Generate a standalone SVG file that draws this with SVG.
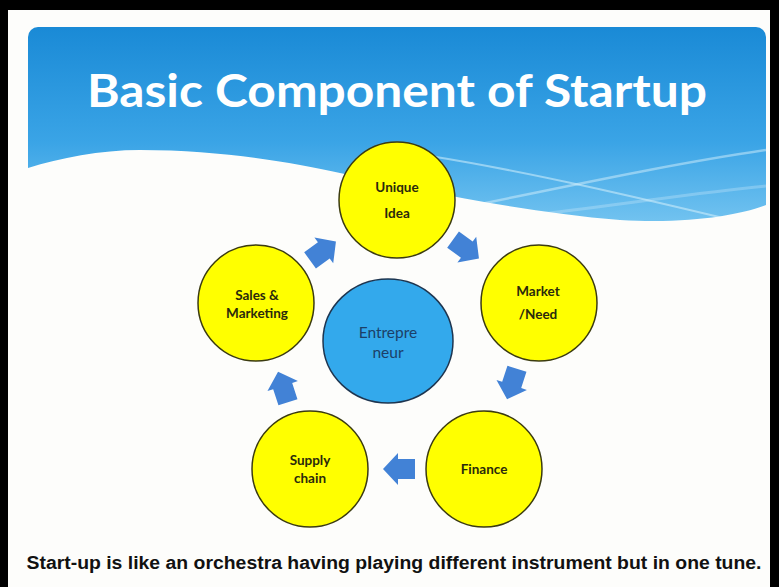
<svg xmlns="http://www.w3.org/2000/svg" width="779" height="587" viewBox="0 0 779 587">
<defs>
<linearGradient id="sky" x1="0" y1="0" x2="0" y2="1">
<stop offset="0" stop-color="#1a8ad6"/>
<stop offset="0.5" stop-color="#3aa4e6"/>
<stop offset="1" stop-color="#8ad0f4"/>
</linearGradient>
<clipPath id="bannerClip"><rect x="28" y="27" width="738" height="320" rx="10"/></clipPath>
<path id="arr" d="M-16,-10 L1,-10 L1,-16 L16,0 L1,16 L1,10 L-16,10 Z"/>
</defs>
<style>
.node{fill:#ffff00;stroke:#3b3b10;stroke-width:1.5}
.lbl{font-family:Lato,"Open Sans","Liberation Sans",sans-serif;font-weight:bold;font-size:13.5px;fill:#2a2a0c;text-anchor:middle}
.arrow{fill:#4282d6}
.streak{fill:none;stroke:#d6f0fc}
</style>
<rect width="779" height="587" fill="#000"/>
<rect x="8" y="10" width="762" height="577" fill="#fdfdfb"/>
<g id="banner" clip-path="url(#bannerClip)">
<rect x="28" y="27" width="738" height="230" fill="url(#sky)"/>
<path class="streak" d="M430,156 C530,172 640,198 740,222" stroke-width="2" opacity="0.55"/>
<path class="streak" d="M470,206 C570,186 670,164 766,150" stroke-width="2.5" opacity="0.5"/>
<path class="streak" d="M540,214 C620,205 700,192 766,186" stroke-width="3" opacity="0.3"/>
<path d="M28,168 C60,158 100,150 140,150 C220,150 290,162 340,173 C420,190 520,212 620,220 C690,224 740,215 766,205 L766,340 L28,340 Z" fill="#fdfdfb"/>
</g>
<text x="397" y="107" font-family="Lato,'Open Sans','Liberation Sans',sans-serif" font-weight="bold" font-size="46" fill="#ffffff" text-anchor="middle" textLength="620" lengthAdjust="spacingAndGlyphs">Basic Component of Startup</text>
<g id="connectors">
<use href="#arr" class="arrow" transform="translate(466,249) rotate(36)"/>
<use href="#arr" class="arrow" transform="translate(512,384) rotate(108)"/>
<use href="#arr" class="arrow" transform="translate(399,469) rotate(180)"/>
<use href="#arr" class="arrow" transform="translate(283,387) rotate(252)"/>
<use href="#arr" class="arrow" transform="translate(323,251) rotate(-36)"/>
</g>
<g id="entrepreneur">
<ellipse cx="388" cy="341" rx="65" ry="62" fill="#33a9ec" stroke="#1d3550" stroke-width="1.5"/>
<text x="388" y="338" font-family="Lato,'Open Sans','Liberation Sans',sans-serif" font-size="15.5" fill="#1c4068" text-anchor="middle">Entrepre</text>
<text x="388" y="358" font-family="Lato,'Open Sans','Liberation Sans',sans-serif" font-size="15.5" fill="#1c4068" text-anchor="middle">neur</text>
</g>
<g id="unique-idea">
<circle class="node" cx="397" cy="200" r="58"/>
<text class="lbl" x="397" y="192">Unique</text>
<text class="lbl" x="397" y="218">Idea</text>
</g>
<g id="market-need">
<circle class="node" cx="539" cy="303" r="58"/>
<text class="lbl" x="538" y="296">Market</text>
<text class="lbl" x="538" y="319">/Need</text>
</g>
<g id="finance">
<circle class="node" cx="484" cy="469" r="58"/>
<text class="lbl" x="484" y="474">Finance</text>
</g>
<g id="supply-chain">
<circle class="node" cx="310" cy="469" r="58"/>
<text class="lbl" x="310" y="465">Supply</text>
<text class="lbl" x="310" y="483">chain</text>
</g>
<g id="sales-marketing">
<circle class="node" cx="256" cy="303" r="58"/>
<text class="lbl" x="257" y="300">Sales &amp;</text>
<text class="lbl" x="257" y="318">Marketing</text>
</g>
<text x="394" y="569" font-family="'Liberation Sans',Arial,sans-serif" font-weight="bold" font-size="18" fill="#111" text-anchor="middle" textLength="735" lengthAdjust="spacingAndGlyphs">Start-up is like an orchestra having playing different instrument but in one tune.</text>
</svg>
